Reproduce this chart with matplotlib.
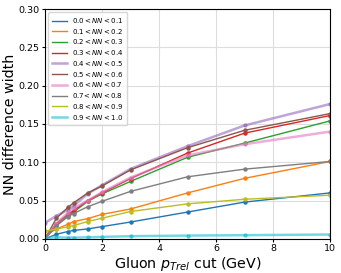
import numpy as np
import matplotlib
matplotlib.use('Agg')
import matplotlib.pyplot as plt
from matplotlib.lines import Line2D

# pTrel cut values (GeV)
cuts = [0, 0.4, 0.8, 1.0, 1.5, 2, 3, 5, 7, 10]

bins = ['0.0', '0.1', '0.2', '0.3', '0.4', '0.5', '0.6', '0.7', '0.8', '0.9', '1.0']

w_00 = [0.0, 0.006, 0.0096, 0.011, 0.013, 0.016, 0.022, 0.035, 0.048, 0.060]
w_01 = [0.004, 0.013, 0.019, 0.0226, 0.0265, 0.032, 0.039, 0.060, 0.079, 0.101]
w_02 = [0.0, 0.018, 0.030, 0.035, 0.049, 0.0587, 0.075, 0.1065, 0.125, 0.154]
w_03 = [0.0, 0.020, 0.032, 0.037, 0.050, 0.060, 0.0787, 0.112, 0.138, 0.161]
w_04 = [0.021, 0.030, 0.038, 0.043, 0.059, 0.070, 0.0913, 0.121, 0.148, 0.176]
w_05 = [0.0, 0.027, 0.041, 0.047, 0.060, 0.069, 0.090, 0.119, 0.1417, 0.1635]
w_06 = [0.0, 0.020, 0.034, 0.040, 0.050, 0.061, 0.080, 0.109, 0.1235, 0.140]
w_07 = [0.0, 0.017, 0.029, 0.033, 0.042, 0.049, 0.062, 0.081, 0.091, 0.101]
w_08 = [0.010, 0.013, 0.0157, 0.0174, 0.0226, 0.027, 0.0357, 0.0457, 0.0517, 0.057]
w_09 = [0.001, 0.002, 0.0017, 0.0017, 0.002, 0.0026, 0.0035, 0.0043, 0.0048, 0.0057]

widths = [w_00, w_01, w_02, w_03, w_04, w_05, w_06, w_07, w_08, w_09]

fig = plt.figure(figsize=(3.41, 2.73), dpi=100)
ax = fig.add_axes([0.132, 0.125, 0.836, 0.842])

handles = []
labels = []
for i, w in enumerate(widths):
    lw = 1.0
    alpha = 1.0
    if i in (4, 6, 9):
        lw = 1.8
        alpha = 0.6
    ax.plot(cuts, w, marker='o', ms=2.2, lw=lw, alpha=alpha, color='C%d' % i)
    handles.append(Line2D([], [], color='C%d' % i, lw=lw, alpha=alpha))
    labels.append(r'%s$<NN<$%s' % (bins[i], bins[i + 1]))

ax.set_xlim(0, 10)
ax.set_ylim(0, 0.30)
ax.set_xticks([0, 2, 4, 6, 8, 10])
ax.set_yticks(np.arange(0, 0.31, 0.05))
ax.grid(True, color='#dddddd', lw=0.8)
ax.tick_params(labelsize=6.8, length=2.5, pad=1.5)
ax.set_xlabel(r'Gluon $p_{Trel}$ cut (GeV)', fontsize=10.3, labelpad=1)
ax.set_ylabel('NN difference width', fontsize=10.3)
ax.yaxis.set_label_coords(-0.098, 0.5)
ax.legend(handles, labels, loc='upper left', fontsize=5, handlelength=2.2,
          labelspacing=0.25, borderpad=0.5, handletextpad=0.7, framealpha=0.8)

fig.savefig('out.png', dpi=100)
